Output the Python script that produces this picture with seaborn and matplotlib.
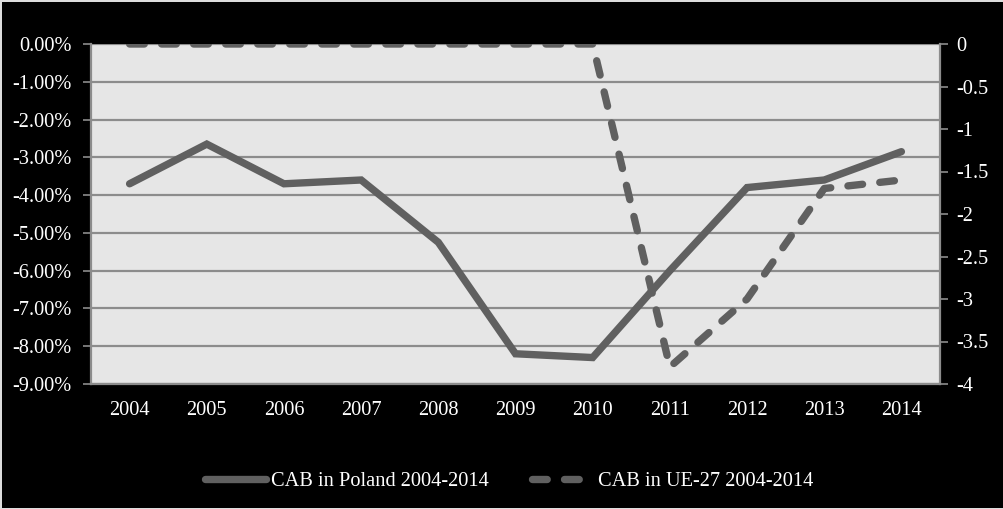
import matplotlib
matplotlib.use("Agg")
import matplotlib.pyplot as plt
import seaborn as sns
import pandas as pd
from matplotlib.ticker import FuncFormatter, MultipleLocator

years = ["2004", "2005", "2006", "2007", "2008", "2009", "2010", "2011", "2012", "2013", "2014"]
poland = [-3.7, -2.65, -3.7, -3.6, -5.25, -8.2, -8.3, -6.0, -3.8, -3.6, -2.85]
ue27 = [0, 0, 0, 0, 0, 0, 0, -3.8, -3.0, -1.7, -1.6]
label_pl = "CAB in Poland 2004-2014"
label_ue = "CAB in UE-27 2004-2014"

sns.set_style("white")
plt.rcParams["font.family"] = ["Liberation Serif", "DejaVu Serif"]

line_c = "#606060"
grid_c = "#8c8c8c"
fs = 14.7

fig = plt.figure(figsize=(10.04, 5.09), dpi=100, facecolor="black",
                 edgecolor="#dddddd", linewidth=2)
ax = fig.add_axes([91/1004, 1-384/509, (940-91)/1004, (384-44)/509])
ax.set_facecolor("#e6e6e6")
df = pd.DataFrame({"year": years, "pl": poland, "ue": ue27})
x = list(range(len(years)))

sns.lineplot(x=x, y=df["pl"], ax=ax, color=line_c, linewidth=5.3, label=label_pl,
             legend=False)
ax.lines[0].set_solid_capstyle("round")
ax.lines[0].set_solid_joinstyle("miter")
ax.set_ylim(-9, 0)
ax.set_xlim(-0.5, len(years) - 0.5)
ax.yaxis.set_major_locator(MultipleLocator(1))
ax.yaxis.set_major_formatter(FuncFormatter(lambda v, p: f"{v:.2f}%"))
ax.set_xticks(x)
ax.set_xticklabels(years)
ax.grid(axis="y", color=grid_c, linewidth=1.6)
ax.set_axisbelow(True)
ax.set_xlabel("")
ax.set_ylabel("")

ax2 = ax.twinx()
sns.lineplot(x=x, y=df["ue"], ax=ax2, color=line_c, linewidth=5.3, label=label_ue,
             legend=False)
l2 = ax2.lines[0]
l2.set_dashes((2.0, 2.35))
l2.set_dash_capstyle("round")
ax2.set_ylim(-4, 0)
ax2.yaxis.set_major_locator(MultipleLocator(0.5))
ax2.yaxis.set_major_formatter(FuncFormatter(lambda v, p: f"{v:g}"))
ax2.set_ylabel("")
ax2.set_xlim(-0.5, len(years) - 0.5)

for a in (ax, ax2):
    for s in a.spines.values():
        s.set_visible(False)
for a, side in ((ax, "left"), (ax, "bottom"), (ax2, "right")):
    a.spines[side].set_visible(True)
    a.spines[side].set_color(grid_c)
    a.spines[side].set_linewidth(1.6)

ax.tick_params(axis="y", labelcolor="white", color=grid_c, labelsize=fs, length=6,
               width=1.2, direction="out", left=True, pad=8)
ax.tick_params(axis="x", colors="white", labelsize=fs, length=0, pad=12)
ax2.tick_params(axis="y", labelcolor="white", color=grid_c, labelsize=fs, length=6,
                width=1.2, direction="out", right=True, pad=6)

handles = [ax.lines[0], l2]
leg = fig.legend(handles, [label_pl, label_ue], loc="center",
                 bbox_to_anchor=(0.507, 1-481/509),
                 ncol=2, frameon=False, fontsize=fs, handlelength=3.0,
                 handletextpad=0.25, columnspacing=2.1)
for t in leg.get_texts():
    t.set_color("white")

fig.savefig("out.png", dpi=100, facecolor="black", edgecolor="#dddddd")
